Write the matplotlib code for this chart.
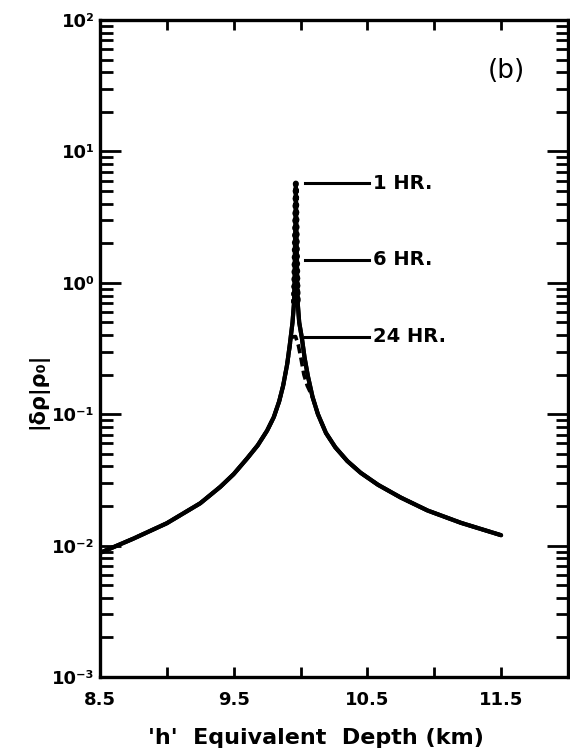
import matplotlib

matplotlib.use("Agg")
import matplotlib.pyplot as plt
import numpy as np
from matplotlib.ticker import FixedLocator, FixedFormatter, LogLocator, NullFormatter

# density perturbation vs equivalent depth, shared wings of the resonance
h_left = [8.5, 8.75, 9.0, 9.25, 9.4, 9.5, 9.6, 9.68, 9.75, 9.8, 9.84,
          9.87, 9.9, 9.92, 9.94, 9.952]
amp_left = [0.0088, 0.0113, 0.0148, 0.021, 0.028, 0.035, 0.046, 0.058,
            0.075, 0.095, 0.125, 0.165, 0.24, 0.34, 0.5, 0.72]
h_right = [9.978, 9.99, 10.01, 10.03, 10.055, 10.09, 10.13, 10.19, 10.26,
           10.35, 10.45, 10.58, 10.75, 10.95, 11.2, 11.5]
amp_right = [0.72, 0.5, 0.38, 0.27, 0.195, 0.135, 0.1, 0.072, 0.056,
             0.044, 0.0358, 0.029, 0.0232, 0.0185, 0.0149, 0.012]

# resonance peak for each forcing period
peak_h = 9.965
periods = ["1 HR.", "6 HR.", "24 HR."]
peak_amp = [5.7, 1.5, 0.39]

# 24 hr curve flattens out below the other two
h_cap24 = [9.93, 9.945, 9.963, 9.985, 10.005, 10.025, 10.05]
amp_cap24 = [0.38, 0.388, 0.39, 0.33, 0.26, 0.2, 0.165]

x_ticks = [8.5, 9.0, 9.5, 10.0, 10.5, 11.0, 11.5, 12.0]
x_labels = ["8.5", "", "9.5", "", "10.5", "", "11.5", ""]
y_ticks = [1e-3, 1e-2, 1e-1, 1e0, 1e1, 1e2]
y_labels = ["10⁻³", "10⁻²", "10⁻¹", "10⁰", "10¹", "10²"]


def build_curve(peak):
    h = list(h_left) + [peak_h] + list(h_right)
    a = list(amp_left) + [peak] + list(amp_right)
    return np.array(h), np.array(a)


def build_24hr():
    hl = [x for x in h_left if x < h_cap24[0] - 0.02]
    al = amp_left[: len(hl)]
    hr = [x for x in h_right if x > h_cap24[-1] + 0.03]
    ar = amp_right[len(h_right) - len(hr):]
    return np.array(hl + h_cap24 + hr), np.array(al + amp_cap24 + ar)


plt.rcParams["font.family"] = ["DejaVu Sans"]
fig = plt.figure(figsize=(5.7, 7.55), dpi=100)
ax = fig.add_axes([0.1754, 0.1033, 0.821, 0.8702])

# 1 hr and 6 hr curves share the wings
n = len(h_left)
for pk in peak_amp[:2]:
    h, a = build_curve(pk)
    ax.plot(h, a, color="black", lw=3.0, solid_capstyle="round",
            solid_joinstyle="round", zorder=3)
    # beaded spike at the resonance
    ax.plot(h[n - 1:n + 2], a[n - 1:n + 2], color="black", lw=4.4,
            linestyle=(0, (0.1, 1.1)), dash_capstyle="round", zorder=4)

h24, a24 = build_24hr()
ax.plot(h24, a24, color="black", lw=2.6, linestyle=(0, (2.5, 1.2)), zorder=3)

# leader lines and period labels
for label, pk in zip(periods, peak_amp):
    ax.plot([10.03, 10.51], [pk, pk], color="black", lw=2.2, zorder=3)
    ax.text(10.54, pk, label, fontsize=14, fontweight="bold",
            ha="left", va="center")

ax.text(11.54, 41, "(b)", fontsize=19, ha="center", va="center")

ax.set_yscale("log")
ax.set_xlim(8.5, 12.0)
ax.set_ylim(1e-3, 1e2)

ax.xaxis.set_major_locator(FixedLocator(x_ticks))
ax.xaxis.set_major_formatter(FixedFormatter(x_labels))
ax.yaxis.set_major_locator(FixedLocator(y_ticks))
ax.yaxis.set_major_formatter(FixedFormatter(y_labels))
ax.yaxis.set_minor_locator(LogLocator(base=10, subs=np.arange(2, 10)))
ax.yaxis.set_minor_formatter(NullFormatter())

ax.tick_params(axis="x", which="major", direction="in", top=True, bottom=True,
               length=7, width=2.0, pad=10, labelsize=13)
ax.tick_params(axis="y", which="major", direction="in", left=True, right=True,
               length=15, width=2.0, pad=4, labelsize=13)
ax.tick_params(axis="y", which="minor", direction="in", left=True, right=True,
               length=9, width=2.0)
for lbl in ax.get_xticklabels() + ax.get_yticklabels():
    lbl.set_fontweight("bold")

for sp in ax.spines.values():
    sp.set_linewidth(2.4)

ax.set_xlabel("'h'  Equivalent  Depth (km)", fontsize=16, fontweight="bold")
ax.xaxis.set_label_coords(0.462, -0.078)
fig.text(0.067, 0.483, "|δρ|ρ₀|", rotation=90, fontsize=15, fontweight="bold",
         ha="center", va="center")

fig.savefig("out.png", dpi=100)
